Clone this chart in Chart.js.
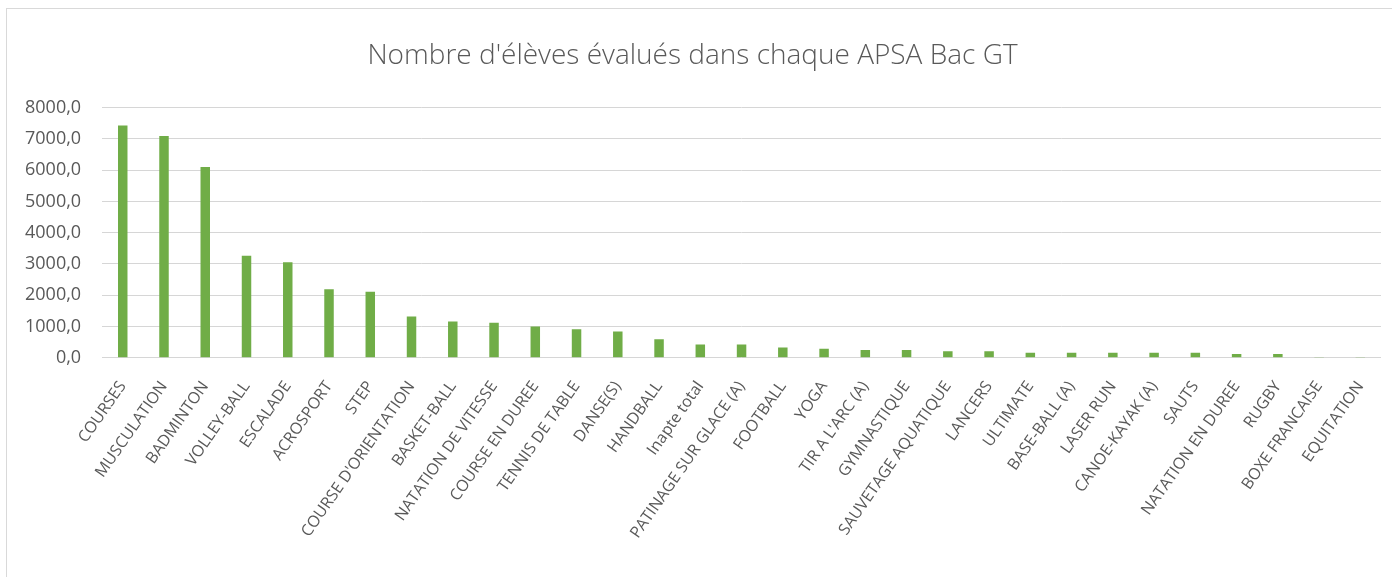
<!DOCTYPE html>
<html>
<head>
<meta charset="utf-8">
<script src="https://cdn.jsdelivr.net/npm/chart.js@4"></script>
<style>
  html, body { margin: 0; padding: 0; background: #fff; overflow: hidden; }
  .frame {
    position: absolute; left: 6px; top: 8px;
    width: 1400px; height: 600px;
    border: 1px solid #d9d9d9;
  }
  #chart { position: absolute; left: 0; top: 0; }
</style>
</head>
<body>
<div class="frame"></div>
<canvas id="chart" width="1392" height="577"></canvas>
<script>
/* ============== Données ===========*/

const labels = [
  'COURSES', 'MUSCULATION', 'BADMINTON', 'VOLLEY-BALL', 'ESCALADE',
  'ACROSPORT', 'STEP', "COURSE D'ORIENTATION", 'BASKET-BALL',
  'NATATION DE VITESSE', 'COURSE EN DUREE', 'TENNIS DE TABLE', 'DANSE(S)',
  'HANDBALL', 'Inapte total', 'PATINAGE SUR GLACE (A)', 'FOOTBALL', 'YOGA',
  "TIR A L'ARC (A)", 'GYMNASTIQUE', 'SAUVETAGE AQUATIQUE', 'LANCERS',
  'ULTIMATE', 'BASE-BALL (A)', 'LASER RUN', 'CANOE-KAYAK (A)', 'SAUTS',
  'NATATION EN DUREE', 'RUGBY', 'BOXE FRANCAISE', 'EQUITATION'
];

const eleves = [
  7430, 7090, 6100, 3260, 3055,
  2190, 2110, 1320, 1160,
  1115, 1000, 910, 835,
  590, 420, 420, 330, 290,
  245, 245, 205, 205,
  160, 160, 160, 160, 160,
  120, 120, 5, 3
];

const yMin = 0, yMax = 8000, yStep = 1000;

/* ============== Chart ===========*/

const grey = '#595959';
const graf = document.getElementById('chart');

const data = {
  labels,
  datasets: [{
    data: eleves,
    backgroundColor: '#70ad47',
    borderWidth: 0,
    barPercentage: 0.46,
    categoryPercentage: 0.5
  }]
};

const config = {
  type: 'bar',
  data,
  options: {
    responsive: false,
    animation: false,
    layout: { padding: { left: 4, right: 11, top: 39, bottom: 23 } },
    plugins: {
      legend: { display: false },
      tooltip: { enabled: false },
      title: {
        display: true,
        text: "Nombre d'élèves évalués dans chaque APSA Bac GT",
        color: grey,
        font: { family: 'Open Sans', size: 28, weight: '300' },
        padding: { top: 0, bottom: 35 }
      }
    },
    scales: {
      x: {
        grid: { display: false },
        border: { display: false },
        ticks: {
          color: grey,
          font: { family: 'Open Sans', size: 16 },
          minRotation: 55,
          maxRotation: 55,
          autoSkip: false,
          padding: 12
        }
      },
      y: {
        min: yMin,
        max: yMax,
        grid: { color: '#d6d6d6', lineWidth: 1, drawTicks: false },
        border: { display: false },
        ticks: {
          stepSize: yStep,
          color: grey,
          padding: 21,
          font: { family: 'Open Sans', size: 18 },
          callback: v => v.toFixed(1).replace('.', ',')
        }
      }
    }
  }
};

const myChart = new Chart(graf, config);
</script>
</body>
</html>
